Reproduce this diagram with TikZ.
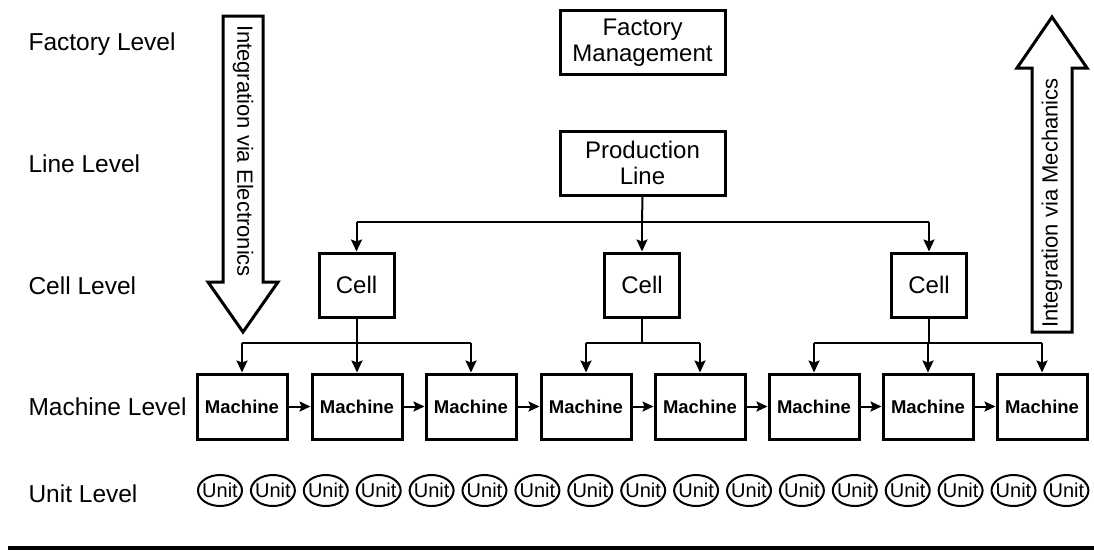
\documentclass[tikz,border=0pt]{standalone}
\usepackage{fontspec}
\setmainfont{Liberation Sans}
\usetikzlibrary{arrows.meta,shapes.geometric}
\begin{document}
\begin{tikzpicture}[x=1pt,y=-1pt,
  lvl/.style={anchor=base west,font=\fontsize{24.5}{27}\selectfont},
  bigbox/.style={draw,line width=3pt,minimum width=165pt,minimum height=64pt,align=center,inner sep=0pt,font=\fontsize{24}{26}\selectfont},
  cellbox/.style={draw,line width=3pt,minimum width=75pt,minimum height=64pt,inner sep=0pt,font=\fontsize{24}{26}\selectfont},
  machbox/.style={draw,line width=3pt,minimum width=90pt,minimum height=65pt,inner sep=0pt,font=\bfseries\fontsize{18.5}{20}\selectfont},
  unitnode/.style={draw,ellipse,line width=2pt,minimum width=44pt,minimum height=31pt,inner sep=0pt,font=\fontsize{20}{22}\selectfont},
  conn/.style={line width=2pt},
  feed/.style={line width=2pt,-{Stealth[length=12pt,width=11pt,inset=2pt]}},
  flow/.style={line width=2pt,-{Stealth[length=11pt,width=10pt,inset=2pt]}},
  bigarrow/.style={draw,line width=3pt,line join=miter,fill=white},
  arrowtext/.style={font=\fontsize{22}{24}\selectfont,inner sep=0pt}
]
\useasboundingbox (0,0) rectangle (1094,550);

% level captions
\node[lvl] (lf) at (25,50) {Factory Level};
\node[lvl] (ll) at (25,172) {Line Level};
\node[lvl] (lc) at (25,294) {Cell Level};
\node[lvl] (lm) at (25,415) {Machine Level};
\node[lvl] (lu) at (25,502) {Unit Level};

% top of the hierarchy
\node[bigbox] (fm) at (642.5,42.5) {Factory\\Management};
\node[bigbox] (pl) at (642.5,163) {Production\\Line};

% cells
\node[cellbox] (c1) at (356.5,285) {Cell};
\node[cellbox] (c2) at (642,285) {Cell};
\node[cellbox] (c3) at (929,285) {Cell};

% machines
\foreach \i/\x in {1/242,2/357,3/471,4/586,5/700,6/814,7/928,8/1042}
  \node[machbox] (m\i) at (\x,406.5) {Machine};

% units: fixed-size ellipses, the label may run over the outline
\foreach \i in {0,...,16}
  \node[unitnode] (u\i) at ({220+52.9*\i},490.5) {\makebox[0pt]{Unit}};

% line to cells
\coordinate (b0) at (642,222);
\coordinate (b1) at (356.5,222);
\coordinate (b3) at (929,222);
\draw[conn] (pl.south) -- (b0);
\draw[conn] (b1) -- (b3);
\draw[feed] (b1) -- (c1.north);
\draw[feed] (b0) -- (c2.north);
\draw[feed] (b3) -- (c3.north);

% cells to machines
\coordinate (d1) at (356.5,343);
\coordinate (d2) at (642,343);
\coordinate (d3) at (929,343);
\draw[conn] (c1.south) -- (d1);
\draw[conn] (c2.south) -- (d2);
\draw[conn] (c3.south) -- (d3);
\draw[conn] (m1.north |- d1) -- (m3.north |- d1);
\draw[conn] (m4.north |- d2) -- (m5.north |- d2);
\draw[conn] (m6.north |- d3) -- (m8.north |- d3);
\foreach \m/\d in {1/1,2/1,3/1,4/2,5/2,6/3,7/3,8/3}
  \draw[feed] (m\m.north |- d\d) -- (m\m.north);

% machine chain
\foreach \a/\b in {1/2,2/3,3/4,4/5,5/6,6/7,7/8}
  \draw[flow] (m\a.east) -- (m\b.west);

% integration arrows
\draw[bigarrow] (223,16) -- (263,16) -- (263,282) -- (278,282) -- (243,332)
  -- (208,282) -- (223,282) -- cycle;
\node[arrowtext,rotate=-90] (ie) at (243,151) {Integration via Electronics};
\draw[bigarrow] (1032,332) -- (1072,332) -- (1072,68) -- (1087,68) -- (1052,17)
  -- (1017,68) -- (1032,68) -- cycle;
\node[arrowtext,rotate=90] (im) at (1052,203) {Integration via Mechanics};

% base rule
\fill (8,546) rectangle (1094,550);
\end{tikzpicture}
\end{document}
